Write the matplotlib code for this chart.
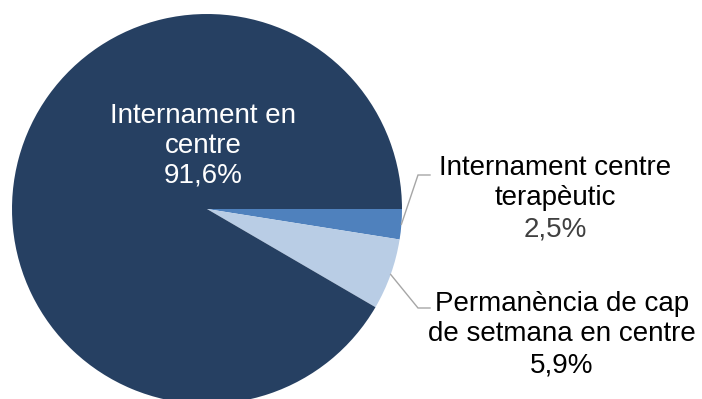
import matplotlib
matplotlib.use("Agg")
import matplotlib.pyplot as plt
import numpy as np

# Distribution of measures (share of total)
categories = ["Internament centre\nterapèutic",
              "Permanència de cap\nde setmana en centre",
              "Internament en\ncentre"]
values = [2.5, 5.9, 91.6]
value_labels = ["2,5%", "5,9%", "91,6%"]
colors = ["#4F81BD", "#B9CDE5", "#264062"]

plt.rcParams["font.family"] = ["Liberation Sans", "DejaVu Sans"]

W, H = 702, 399
fig = plt.figure(figsize=(W / 100, H / 100), dpi=100)
ax = fig.add_axes([0, 0, 1, 1])

# pie geometry in pixels
cx, cy, r = 207, 209, 195
line_step = 31  # baseline-to-baseline distance of the labels, pixels


def px(x, y):
    """pixel position (from top-left) -> data coordinates"""
    return (x - cx) / r, (cy - y) / r


wedges, _ = ax.pie(values, colors=colors, startangle=0, counterclock=False,
                   radius=1.0, center=(0, 0), frame=True,
                   wedgeprops=dict(linewidth=0))

ax.set_xlim(-cx / r, (W - cx) / r)
ax.set_ylim(-(H - cy) / r, cy / r)
ax.set_aspect("equal", adjustable="box")
ax.axis("off")

# label inside the large slice
x, y = px(203, 183)
ax.text(x, y, f"{categories[2]}\n{value_labels[2]}", color="white",
        fontsize=20, ha="center", va="baseline", linespacing=1.2)

# outside labels with leader lines
outside = [
    (0, (418, 175), (430, 175), (555, 236), "#404040"),
    (1, (418, 308), (430, 308), (562, 372), "black"),
]
for idx, knee, end, txt_pos, pct_color in outside:
    w = wedges[idx]
    mid = np.deg2rad((w.theta1 + w.theta2) / 2)
    sx, sy = np.cos(mid), np.sin(mid)
    kx, ky = px(*knee)
    ex, ey = px(*end)
    ax.plot([sx, kx, ex], [sy, ky, ey], color="#A6A6A6", lw=1.0,
            solid_joinstyle="miter")
    tx, ty = px(*txt_pos)
    ax.text(tx, ty, value_labels[idx], color=pct_color, fontsize=20,
            ha="center", va="baseline")
    tx2, ty2 = px(txt_pos[0], txt_pos[1] - line_step)
    ax.text(tx2, ty2, categories[idx], color="black", fontsize=20,
            ha="center", va="baseline", linespacing=1.2)

fig.savefig("out.png", dpi=100)
